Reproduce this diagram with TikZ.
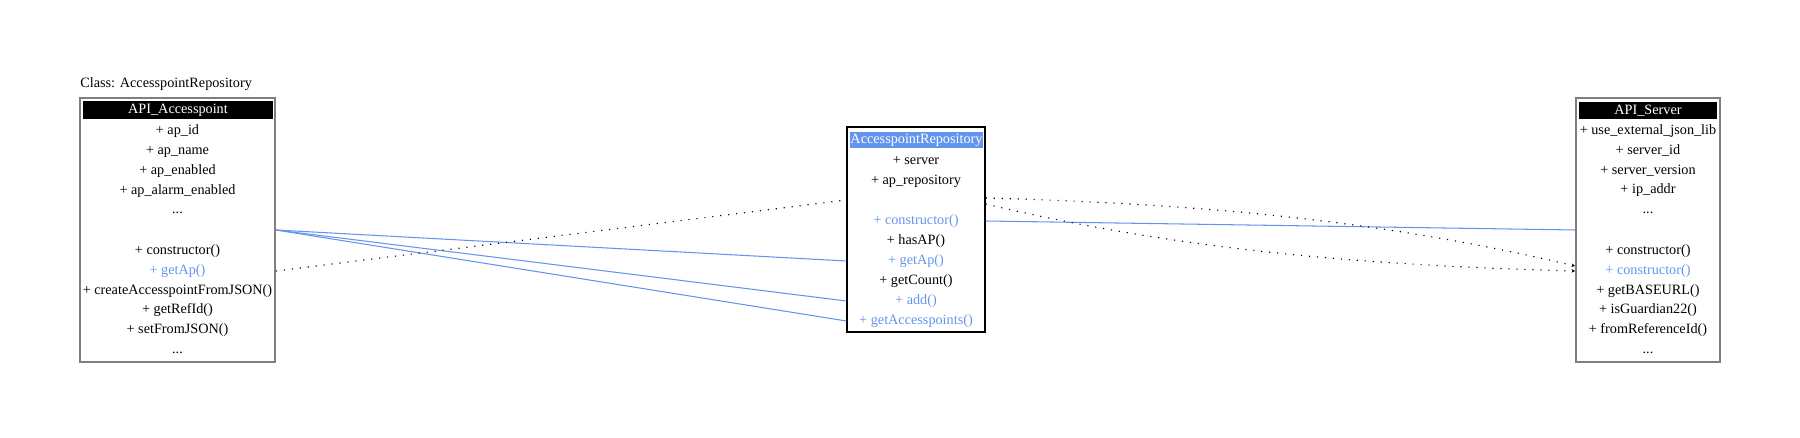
\documentclass[tikz,border=0pt]{standalone}
\usepackage{fontspec}
\setmainfont{Liberation Serif}
\definecolor{LinkBlue}{HTML}{6495ED}
\definecolor{BoxGray}{HTML}{7F7F7F}
\usetikzlibrary{arrows.meta}

\begin{document}
\begin{tikzpicture}[x=0.02cm, y=-0.02cm,
    every node/.style={font=\fontsize{8.1pt}{9pt}\selectfont, inner sep=0pt, text height=5.7pt, text depth=1.6pt},
    classbox/.style={draw=BoxGray, line width=1.1pt},
    header/.style={fill=black, text=white},
    linked/.style={text=LinkBlue},
    usage/.style={LinkBlue, line width=0.6pt},
    depends/.style={line width=0.65pt, dash pattern=on 0.65pt off 3.9pt}]
    \useasboundingbox (0,0) rectangle (1800,438);

    % Class title
    \node[anchor=west] (title) at (80,84) {Class: AccesspointRepository};

    % Left class
    \node[classbox, minimum width=3.9cm, minimum height=5.28cm] (apbox) at (177.5,230) {};
    \node[header, minimum width=3.8cm, minimum height=0.36cm] (aphead) at (178,110) {API\_Accesspoint};
    \node (apId) at (177.5,131) {+ ap\_id};
    \node (apName) at (177.5,151) {+ ap\_name};
    \node (apEnabled) at (177.5,171) {+ ap\_enabled};
    \node (apAlarm) at (177.5,191) {+ ap\_alarm\_enabled};
    \node (apMore) at (177.5,210) {...};
    \coordinate (apgap) at (177.5,230);
    \node (apCtor) at (177.5,251) {+ constructor()};
    \node[linked] (apGetAp) at (177.5,271) {+ getAp()};
    \node (apCreate) at (177.5,291) {+ createAccesspointFromJSON()};
    \node (apRefId) at (177.5,310) {+ getRefId()};
    \node (apSetJson) at (177.5,330) {+ setFromJSON()};
    \node (apEnd) at (177.5,350) {...};

    % Middle class
    \node[draw=black, line width=0.75pt, minimum width=2.76cm, minimum height=4.1cm] (repobox) at (916,229.5) {};
    \node[header, fill=LinkBlue, minimum width=2.66cm, minimum height=0.32cm] (repohead) at (916.5,140) {AccesspointRepository};
    \node (repoServer) at (916,161) {+ server};
    \node (repoList) at (916,181) {+ ap\_repository};
    \coordinate (repogap) at (916,200);
    \node[linked] (repoCtor) at (916,221) {+ constructor()};
    \node (repoHas) at (916,241) {+ hasAP()};
    \node[linked] (repoGetAp) at (916,261) {+ getAp()};
    \node (repoCount) at (916,281) {+ getCount()};
    \node[linked] (repoAdd) at (916,301) {+ add()};
    \node[linked] (repoGetAll) at (916,321) {+ getAccesspoints()};

    % Right class
    \node[classbox, minimum width=2.88cm, minimum height=5.28cm] (serverbox) at (1648,230) {};
    \node[header, minimum width=2.76cm, minimum height=0.34cm] (serverhead) at (1648,110.5) {API\_Server};
    \node (serverJson) at (1648,131) {+ use\_external\_json\_lib};
    \node (serverId) at (1648,151) {+ server\_id};
    \node (serverVersion) at (1648,171) {+ server\_version};
    \node (serverIp) at (1648,190) {+ ip\_addr};
    \node (serverMore) at (1648,210) {...};
    \coordinate (servergap) at (1648,230);
    \node (serverCtor) at (1648,251) {+ constructor()};
    \node[linked] (serverCtorB) at (1648,271) {+ constructor()};
    \node (serverUrl) at (1648,291) {+ getBASEURL()};
    \node (serverGuard) at (1648,310) {+ isGuardian22()};
    \node (serverRef) at (1648,330) {+ fromReferenceId()};
    \node (serverEnd) at (1648,350) {...};

    % Connectors
    \draw[usage] (apbox.east |- apgap) -- (repobox.west |- repoGetAp);
    \draw[usage] (apbox.east |- apgap) -- (repobox.west |- repoAdd);
    \draw[usage] (apbox.east |- apgap) -- (repobox.west |- repoGetAll);
    \draw[depends] (apbox.east |- apGetAp) -- (repobox.west |- repogap);
    \draw[usage] (repobox.east |- repoCtor) -- (serverbox.west |- servergap);
    \draw[depends, -{Stealth[length=2pt, width=2pt]}] (repobox.east |- repogap) ++(0,-2) .. controls +(220,6) and +(-190,-45) .. ([yshift=0.1cm]serverbox.west |- serverCtorB);
    \draw[depends, -{Stealth[length=2pt, width=2pt]}] (repobox.east |- repogap) ++(0,4) .. controls +(190,45) and +(-220,-6) .. (serverbox.west |- serverCtorB);
\end{tikzpicture}
\end{document}
